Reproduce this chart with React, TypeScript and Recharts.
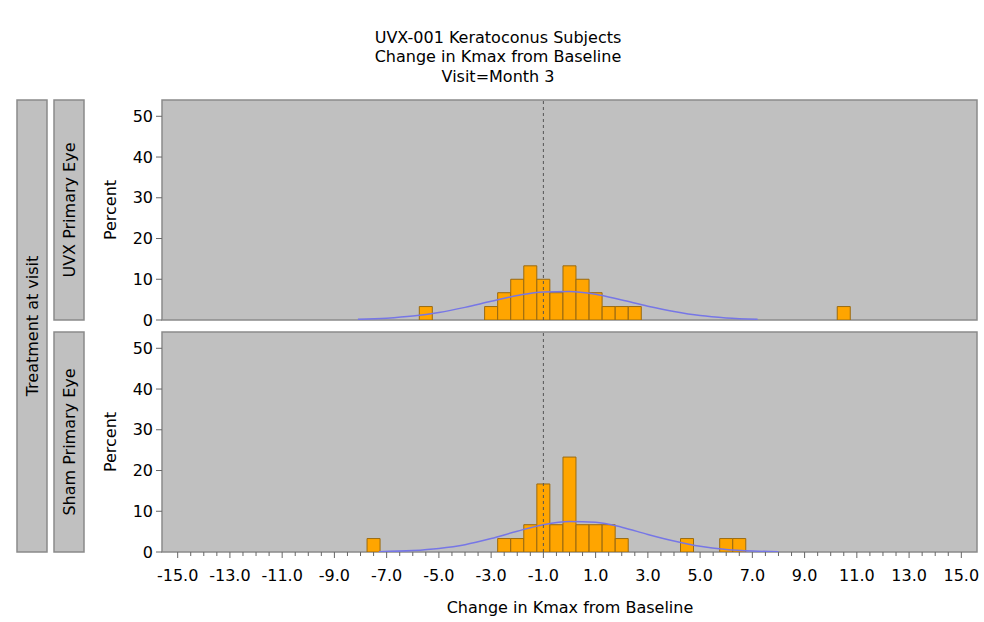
import { ComposedChart, Bar, Line, XAxis, YAxis, CartesianGrid, ReferenceLine, ReferenceArea } from "recharts";

const titleLines = ["UVX-001 Keratoconus Subjects", "Change in Kmax from Baseline", "Visit=Month 3"];
const xLabel = "Change in Kmax from Baseline";
const rowLabel = "Treatment at visit";
const panelLabels = ["UVX Primary Eye", "Sham Primary Eye"];

// odd whole numbers carry a label, every half unit gets a tick
const xTickLabels = [-15, -13, -11, -9, -7, -5, -3, -1, 1, 3, 5, 7, 9, 11, 13, 15];
const xMinorTicks = Array.from({ length: 61 }, (_, i) => -15 + i * 0.5);
const yTicks = [0, 10, 20, 30, 40, 50];
const refX = -1.0;

// UVX panel: bin midpoints (width 0.5) and percent of subjects
const uvxBins = [-5.5, -3.0, -2.5, -2.0, -1.5, -1.0, -0.5, 0.0, 0.5, 1.0, 1.5, 2.0, 2.5, 10.5];
const uvxPct = [3.3, 3.3, 6.7, 10.0, 13.3, 10.0, 6.7, 13.3, 10.0, 6.7, 3.3, 3.3, 3.3, 3.3];
const uvxCurveX = [-8.1, -7, -6, -5, -4, -3, -2, -1, 0, 1, 2, 3, 4, 5, 6, 7.2];
const uvxCurve = [0.16, 0.44, 0.96, 1.84, 3.1, 4.6, 6.0, 6.9, 7.0, 6.3, 4.9, 3.4, 2.1, 1.1, 0.52, 0.18];

// Sham panel
const shamBins = [-7.5, -2.5, -2.0, -1.5, -1.0, -0.5, 0.0, 0.5, 1.0, 1.5, 2.0, 4.5, 6.0, 6.5];
const shamPct = [3.3, 3.3, 3.3, 6.7, 16.7, 6.7, 23.3, 6.7, 6.7, 6.7, 3.3, 3.3, 3.3, 3.3];
const shamCurveX = [-7.3, -6, -5, -4, -3, -2, -1, 0, 1, 2, 3, 4, 5, 6, 7, 8];
const shamCurve = [0.09, 0.36, 0.88, 1.8, 3.3, 5.1, 6.7, 7.5, 7.3, 6.1, 4.3, 2.7, 1.4, 0.62, 0.24, 0.08];

const FONT = "'DejaVu Sans', sans-serif";
const X_DOMAIN: [number, number] = [-15.6, 15.6];
const Y_DOMAIN: [number, number] = [0, 54];
const PLOT_W = 815;
// a hair under the 0.5-unit step so recharts does not shrink the bars
const BAR_W = (PLOT_W / (X_DOMAIN[1] - X_DOMAIN[0])) * 0.5 - 0.05;

function XTick(props: any) {
  const { x, y, payload } = props;
  const v = payload.value as number;
  const labelled = xTickLabels.includes(v);
  return (
    <g>
      <line x1={x} x2={x} y1={y} y2={y + (labelled ? 6 : 4)} stroke="#666" />
      {labelled && (
        <text x={x} y={y + 29} textAnchor="middle" fontSize={16} fill="#000" fontFamily={FONT}>
          {v.toFixed(1)}
        </text>
      )}
    </g>
  );
}

type PanelProps = { bins: number[]; pct: number[]; curveX: number[]; curve: number[]; showAxis: boolean };

function Panel({ bins, pct, curveX, curve, showAxis }: PanelProps) {
  const bars = bins.map((x, i) => ({ x, pct: pct[i] }));
  const density = curveX.map((x, i) => ({ x, curve: curve[i] }));
  return (
    <ComposedChart
      width={984}
      height={showAxis ? 270 : 240}
      data={bars}
      margin={{ top: 10, right: 7, bottom: showAxis ? 0 : 10, left: 102 }}
    >
      <CartesianGrid fill="#c0c0c0" horizontal={false} vertical={false} />
      <XAxis
        dataKey="x"
        type="number"
        domain={X_DOMAIN}
        allowDataOverflow
        hide={!showAxis}
        ticks={xMinorTicks}
        interval={0}
        axisLine={false}
        tickLine={false}
        tickSize={0}
        tickMargin={0}
        height={40}
        tick={<XTick />}
      />
      {/* own hidden axis for the bars, so the curve points don't narrow them */}
      <XAxis xAxisId="bars" dataKey="x" type="number" domain={X_DOMAIN} allowDataOverflow hide />
      <YAxis
        type="number"
        domain={Y_DOMAIN}
        allowDataOverflow
        ticks={yTicks}
        interval={0}
        width={60}
        axisLine={false}
        tickSize={6}
        tickMargin={3}
        tickLine={{ stroke: "#666" }}
        tick={{ fontSize: 16, fill: "#000", fontFamily: FONT }}
      />
      <Bar xAxisId="bars" dataKey="pct" barSize={BAR_W} fill="#ffa500" stroke="#9a6a10" strokeWidth={1} isAnimationActive={false} />
      <Line
        data={density}
        dataKey="curve"
        type="monotone"
        stroke="#7676e6"
        strokeWidth={1.5}
        dot={false}
        isAnimationActive={false}
      />
      <ReferenceLine x={refX} stroke="#555" strokeDasharray="3 3" strokeWidth={1} />
      <ReferenceArea x1={X_DOMAIN[0]} x2={X_DOMAIN[1]} y1={Y_DOMAIN[0]} y2={Y_DOMAIN[1]} fill="none" stroke="#8a8a8a" strokeWidth={1.5} />
    </ComposedChart>
  );
}

export default function App() {
  return (
    <div style={{ position: "absolute", left: 0, top: 0, width: 984, height: 622, background: "#fff", fontFamily: FONT }}>
      <svg width={984} height={622} style={{ position: "absolute", left: 0, top: 0 }}>
        {titleLines.map((t, i) => (
          <text key={t} x={498} y={37 + i * 19.8} textAnchor="middle" dominantBaseline="central" fontSize={16} fill="#000" fontFamily={FONT}>
            {t}
          </text>
        ))}
        <rect x={17} y={100} width={30} height={452} fill="#c0c0c0" stroke="#8a8a8a" strokeWidth={1.5} />
        <text x={32} y={326} transform="rotate(-90 32 326)" textAnchor="middle" dominantBaseline="central" fontSize={16} fill="#000" fontFamily={FONT}>
          {rowLabel}
        </text>
        {panelLabels.map((p, i) => {
          const cy = i === 0 ? 210 : 442;
          return (
            <g key={p}>
              <rect x={54} y={cy - 110} width={30} height={220} fill="#c0c0c0" stroke="#8a8a8a" strokeWidth={1.5} />
              <text x={69} y={cy} transform={`rotate(-90 69 ${cy})`} textAnchor="middle" dominantBaseline="central" fontSize={16} fill="#000" fontFamily={FONT}>
                {p}
              </text>
              <text x={110} y={cy} transform={`rotate(-90 110 ${cy})`} textAnchor="middle" dominantBaseline="central" fontSize={16} fill="#000" fontFamily={FONT}>
                Percent
              </text>
            </g>
          );
        })}
        <text x={570} y={607} textAnchor="middle" dominantBaseline="central" fontSize={16} fill="#000" fontFamily={FONT}>
          {xLabel}
        </text>
      </svg>
      <div style={{ position: "absolute", left: 0, top: 90 }}>
        <Panel bins={uvxBins} pct={uvxPct} curveX={uvxCurveX} curve={uvxCurve} showAxis={false} />
      </div>
      <div style={{ position: "absolute", left: 0, top: 322 }}>
        <Panel bins={shamBins} pct={shamPct} curveX={shamCurveX} curve={shamCurve} showAxis={true} />
      </div>
    </div>
  );
}
